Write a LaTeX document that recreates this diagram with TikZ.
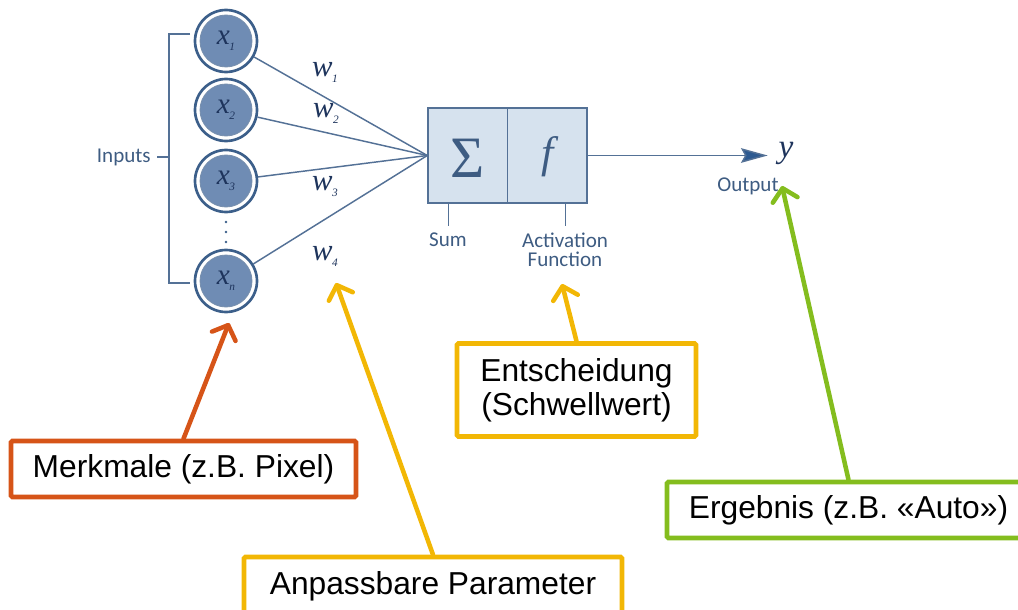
\documentclass[tikz,border=0pt]{standalone}
\usepackage{fontspec}
\setmainfont{Liberation Sans}
\newfontfamily\calfont{Carlito}
\newfontfamily\serfont{Liberation Serif}
\usetikzlibrary{arrows.meta,calc}
\definecolor{cfill}{RGB}{111,140,180}
\definecolor{cdark}{RGB}{60,95,138}
\definecolor{cline}{RGB}{84,113,150}
\definecolor{ctext}{RGB}{62,92,130}
\definecolor{cnavy}{RGB}{30,52,92}
\definecolor{carr}{RGB}{45,90,145}
\definecolor{boxfill}{RGB}{214,226,238}
\definecolor{corange}{RGB}{214,84,24}
\definecolor{cyellow}{RGB}{242,183,5}
\definecolor{cgreen}{RGB}{132,189,30}
\newcommand{\varlbl}[3]{{\serfont\itshape\fontsize{#3}{#3}\selectfont #1\kern-0.3pt\raisebox{-4.5pt}{\fontsize{8.5}{8.5}\selectfont #2}}}
\begin{document}
\begin{tikzpicture}[x=0.75pt,y=-0.75pt,
  inp/.style={circle, minimum size=46.5pt, inner sep=0pt, draw=cdark, line width=2pt, fill=white,
    path picture={\fill[cfill] (path picture bounding box.center) circle (19.5pt);
                  \draw[cdark!70, line width=0.6pt] (path picture bounding box.center) circle (19.5pt);},
    text=cnavy},
  wlbl/.style={text=cnavy, inner sep=0pt},
  bluetxt/.style={text=ctext, font=\calfont\fontsize{15.8}{14.5}\selectfont, inner sep=0pt, align=center},
  bline/.style={draw=cline, line width=1.1pt},
  cbox/.style={draw, line width=3.4pt, rounded corners=1pt, inner sep=0pt, fill=white,
    font=\fontsize{23.8}{25.5}\selectfont, align=center},
  carrow/.style={line width=3.4pt, line cap=round, -{Straight Barb[length=9pt,width=19pt,round]}}
]
\useasboundingbox (0,0) rectangle (1018,610);

% inputs bracket
\coordinate (bt) at (190,34);
\coordinate (bb) at (190,283);
\coordinate (bm) at (169,157);
\node[bluetxt, anchor=east] (inputs) at (151,157) {Inputs};
\draw[bline] (bt) -- (169,34) -- (169,283) -- (bb);
\draw[bline] (inputs.east) ++(6,0) coordinate (ti) -- (bm);

% input circles
\node[inp] (x1) at (226,41) {\varlbl{x}{1}{22}};
\node[inp] (x2) at (226,110) {\varlbl{x}{2}{22}};
\node[inp] (x3) at (226,181) {\varlbl{x}{3}{22}};
\node[inp] (xn) at (226,281) {\varlbl{x}{n}{22}};
\foreach \yy in {222,232,242} \fill[cdark] (226,\yy) circle (1.1pt);

% summation / activation box
\node[draw=cline, line width=1.1pt, fill=boxfill, minimum width=119.25pt, minimum height=71.25pt, inner sep=0pt] (box) at (507.5,155.5) {};
\draw[bline] (box.north) -- (box.south);
\node[text=ctext, font=\serfont\fontsize{44}{44}\selectfont] (sig) at (468,158) {Σ};
\node[text=ctext, font=\serfont\itshape\fontsize{33}{33}\selectfont] (fn) at (548,157) {f};

% weights
\foreach \n in {x1,x2,x3,xn} \draw[bline] (\n) -- (box.west);
\node[wlbl] (w1) at (325,72) {\varlbl{w}{1}{23}};
\node[wlbl] (w2) at (326,113) {\varlbl{w}{2}{23}};
\node[wlbl] (w3) at (325,187) {\varlbl{w}{3}{23}};
\node[wlbl] (w4) at (325,256) {\varlbl{w}{4}{23}};

% ticks and labels
\draw[bline] ($(box.south west)+(21,0)$) coordinate (st) -- ++(0,22) coordinate (sb);
\draw[bline] ($(box.south west)+(138,0)$) coordinate (at) -- ++(0,22) coordinate (ab);
\node[bluetxt] (sum) at (448,240) {Sum};
\node[bluetxt] (act) at (565,249.5) {Activation\\Function};

% output
\node[text=cnavy, font=\serfont\itshape\fontsize{25}{25}\selectfont, inner sep=0pt] (yout) at (786,153) {y};
\draw[bline, -{Stealth[length=20pt,width=11pt,inset=3pt,fill=carr]}, shorten >=8pt] (box.east) -- (box.east -| yout.west);
\node[bluetxt] (outl) at (748,186) {Output};

% annotation boxes
\node[cbox, draw=corange, minimum width=258.75pt, minimum height=42pt] (merk) at (183.5,469) {Merkmale (z.B. Pixel)};
\node[cbox, draw=cyellow, minimum width=283.5pt, minimum height=43.5pt] (param) at (433,586) {Anpassbare Parameter};
\node[cbox, draw=cyellow, minimum width=179.25pt, minimum height=69.75pt] (ent) at (576.5,390) {Entscheidung\\(Schwellwert)};
\node[cbox, draw=cgreen, minimum width=272.25pt, minimum height=42pt] (erg) at (848.5,510) {Ergebnis (z.B. «Auto»)};

\coordinate (tm) at (229,323);
\coordinate (tp) at (336,283);
\coordinate (te) at (562,284);
\coordinate (tg) at (782,186);
\draw[carrow, corange] (merk.north) -- (tm);
\draw[carrow, cyellow] (param.north) -- (tp);
\draw[carrow, cyellow] (ent.north) -- (te);
\draw[carrow, cgreen] (erg.north) -- (tg);
\end{tikzpicture}
\end{document}
